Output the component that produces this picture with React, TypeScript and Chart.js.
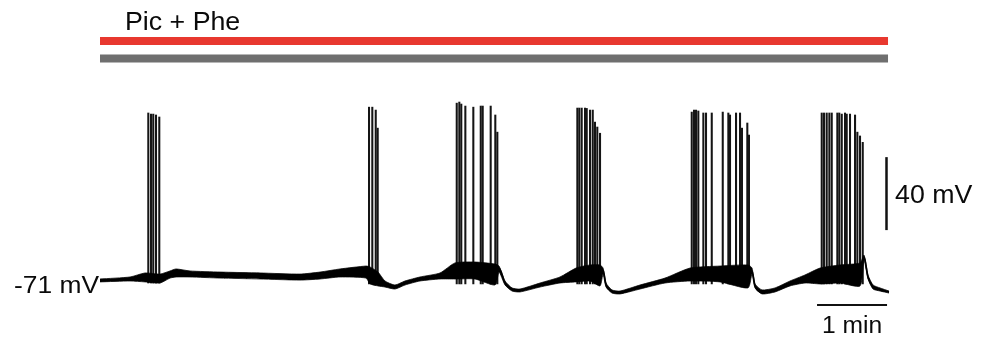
import React, { useEffect, useRef } from "react";
import { Chart, registerables } from "chart.js";

Chart.register(...registerables);

// ---- Data (time in minutes, membrane potential in mV) ----
const traceTimes = [
  0, 0.143, 0.429, 0.643, 0.857, 0.971, 1.086, 1.286, 1.714, 2.286, 2.857, 3.143, 3.429, 3.8,
  3.971, 4.114, 4.214, 4.357, 4.571, 4.857, 5.071, 5.357, 5.629, 5.7, 5.786, 5.886, 6.0, 6.286,
  6.571, 6.8, 7.0, 7.143, 7.186, 7.229, 7.314, 7.429, 7.714, 8.071, 8.429, 8.857, 9.257, 9.314,
  9.357, 9.457, 9.643, 9.857, 10.071, 10.286, 10.571, 10.857, 10.914, 10.971, 11.043, 11.143, 11.271,
];
const traceMv = [
  -71, -70.5, -69.9, -68.8, -69.9, -68.3, -66.6, -67.2, -67.7, -68.3, -68.8, -68.3, -66.6, -66.1,
  -69.9, -73.2, -74.3, -72.1, -69.9, -68.3, -65.5, -65.0, -66.1, -63.9, -72.1, -75.4, -75.9, -73.2,
  -70.5, -67.7, -66.6, -66.1, -65.0, -73.2, -76.5, -77.6, -74.3, -71.0, -67.7, -67.2, -67.2, -65.5,
  -73.7, -77.0, -75.9, -72.6, -69.9, -68.3, -67.2, -67.2, -57.8, -68.8, -74.3, -75.9, -77.0,
];

const noiseTimes = [
  0, 0.429, 0.643, 0.857, 1.0, 1.086, 1.286, 1.714, 2.286, 2.857, 3.143, 3.429, 3.8, 3.857,
  3.971, 4.071, 4.214, 4.357, 4.571, 4.857, 5.071, 5.357, 5.643, 5.7, 5.786, 5.886, 6.0, 6.286,
  6.571, 6.8, 7.0, 7.143, 7.186, 7.229, 7.314, 7.429, 7.714, 8.071, 8.429, 8.857, 9.257, 9.314,
  9.357, 9.457, 9.643, 9.857, 10.071, 10.286, 10.571, 10.857, 10.914, 10.971, 11.043, 11.143, 11.271,
];
const noiseUpper = [
  -69.9, -68.8, -66.6, -67.2, -65.5, -64.4, -65.5, -66.1, -66.6, -67.2, -66.1, -64.4, -62.8, -63.3,
  -66.1, -71.0, -73.2, -71.0, -68.8, -66.6, -61.1, -60.6, -61.7, -62.8, -71.0, -74.8, -75.4, -72.1,
  -68.8, -63.9, -62.2, -62.2, -63.9, -72.1, -75.9, -76.5, -73.2, -69.4, -63.9, -62.8, -62.2, -63.9,
  -72.6, -75.9, -74.8, -71.0, -67.7, -63.9, -62.2, -61.1, -56.8, -67.7, -73.2, -74.8, -76.5,
];
const noiseLower = [
  -71.5, -71.0, -71.5, -72.1, -69.4, -68.8, -68.8, -69.4, -69.9, -70.5, -69.9, -68.8, -69.4, -72.6,
  -73.7, -74.3, -75.4, -73.2, -71.0, -69.9, -69.9, -69.9, -73.2, -66.1, -73.2, -76.5, -77.0, -74.3,
  -72.1, -71.5, -71.0, -73.7, -67.2, -74.3, -77.6, -78.1, -75.4, -72.1, -71.0, -71.5, -74.8, -67.2,
  -74.8, -78.1, -77.0, -73.7, -72.1, -72.6, -72.1, -73.7, -59.5, -69.9, -75.4, -76.5, -77.6,
];

// Action potentials: spike times (min) and peak potentials (mV), per burst
const burst1Times = [0.69, 0.729, 0.761, 0.8, 0.847];
const burst1Peaks = [21.1, 20.5, 20.5, 20.0, 18.9];
const burst2Times = [3.843, 3.89, 3.939, 3.967];
const burst2Peaks = [24.3, 24.3, 22.7, 12.8];
const burst3Times = [5.096, 5.133, 5.161, 5.219, 5.333, 5.439, 5.467, 5.581, 5.647, 5.676];
const burst3Peaks = [26.5, 27.1, 26.0, 24.9, 24.3, 24.9, 24.9, 24.9, 20.0, 10.6];
const burst4Times = [6.819, 6.847, 6.881, 6.929, 6.953, 7.0, 7.039, 7.071, 7.104, 7.143];
const burst4Peaks = [23.8, 23.8, 23.8, 23.8, 23.6, 22.7, 22.7, 16.1, 13.4, 10.0];
const burst5Times = [8.453, 8.486, 8.514, 8.547, 8.619, 8.657, 8.739, 8.896, 8.976, 9.0, 9.086, 9.143, 9.171, 9.247, 9.271];
const burst5Peaks = [21.6, 22.7, 22.7, 22.2, 21.1, 21.1, 21.1, 21.6, 21.1, 20.0, 21.1, 21.1, 12.8, 15.6, 9.0];
const burst6Times = [10.31, 10.343, 10.381, 10.419, 10.453, 10.533, 10.561, 10.596, 10.643, 10.667, 10.714, 10.786, 10.819, 10.857, 10.896];
const burst6Peaks = [21.1, 21.1, 21.1, 21.1, 21.1, 21.1, 21.1, 20.5, 21.1, 20.5, 20.5, 20.0, 10.6, 8.5, 5.0];
const burstFloors = [-72.1, -72.6, -72.6, -72.6, -72.6, -72.6];

// Annotations
const drugLabel = "Pic + Phe";
const restingLabel = "-71 mV";
const voltageBarMv = 40;
const voltageBarBottomMv = -43.1;
const voltageBarLabel = "40 mV";
const timeBarMin = 1;
const timeBarStartMin = 10.243;
const timeBarLabel = "1 min";
const drugStartMin = 0;
const drugEndMin = 11.257;

const X_MAX = 11.271;
const Y_MIN = -86.9;
const Y_MAX = 33.7;

const FONT = '"Liberation Sans", Arial, Helvetica, sans-serif';

function stretchedText(
  ctx: CanvasRenderingContext2D,
  text: string,
  x: number,
  y: number,
  size: number,
  align: CanvasTextAlign,
  sx: number
) {
  ctx.save();
  ctx.translate(x, y);
  ctx.scale(sx, 1);
  ctx.font = `${size}px ${FONT}`;
  ctx.textAlign = align;
  ctx.textBaseline = "alphabetic";
  ctx.fillStyle = "#0a0a0a";
  ctx.fillText(text, 0, 0);
  ctx.restore();
}

const decorations = {
  id: "decorations",
  afterDatasetsDraw(chart: any) {
    const ctx: CanvasRenderingContext2D = chart.ctx;
    const xs = chart.scales.x;
    const ys = chart.scales.y;
    const x0 = xs.getPixelForValue(drugStartMin);
    const x1 = xs.getPixelForValue(drugEndMin);
    ctx.save();
    // drug application bars
    ctx.fillStyle = "#e8382f";
    ctx.fillRect(x0, 37, x1 - x0, 8);
    ctx.fillStyle = "#6f6f6f";
    ctx.fillRect(x0, 54.5, x1 - x0, 8);
    stretchedText(ctx, drugLabel, 125, 29.5, 25, "left", 1.07);

    // resting potential label
    stretchedText(ctx, restingLabel, 99, 292.5, 24, "right", 1.1);

    // voltage scale bar
    const vx = 886.5;
    const vTop = ys.getPixelForValue(voltageBarBottomMv + voltageBarMv);
    const vBot = ys.getPixelForValue(voltageBarBottomMv);
    ctx.strokeStyle = "#111";
    ctx.lineWidth = 2.5;
    ctx.beginPath();
    ctx.moveTo(vx, vTop);
    ctx.lineTo(vx, vBot);
    ctx.stroke();
    stretchedText(ctx, voltageBarLabel, 895, 203, 25, "left", 1.07);

    // time scale bar
    const tx0 = xs.getPixelForValue(timeBarStartMin);
    const tx1 = xs.getPixelForValue(timeBarStartMin + timeBarMin);
    ctx.lineWidth = 2;
    ctx.beginPath();
    ctx.moveTo(tx0, 305);
    ctx.lineTo(tx1, 305);
    ctx.stroke();
    stretchedText(ctx, timeBarLabel, (tx0 + tx1) / 2, 333, 23, "center", 1.07);
    ctx.restore();
  },
};

export default function App() {
  const ref = useRef<HTMLCanvasElement>(null);

  useEffect(() => {
    const trace = traceTimes.map((x, i) => ({ x, y: traceMv[i] }));
    const upper = noiseTimes.map((x, i) => ({ x, y: noiseUpper[i] }));
    const lower = noiseTimes.map((x, i) => ({ x, y: noiseLower[i] }));
    const bursts = [
      [burst1Times, burst1Peaks],
      [burst2Times, burst2Peaks],
      [burst3Times, burst3Peaks],
      [burst4Times, burst4Peaks],
      [burst5Times, burst5Peaks],
      [burst6Times, burst6Peaks],
    ];
    const spikes: { x: number; y: [number, number] }[] = [];
    bursts.forEach(([times, peaks], b) => {
      times.forEach((t, j) => spikes.push({ x: t, y: [burstFloors[b], peaks[j]] }));
    });

    const chart = new Chart(ref.current as HTMLCanvasElement, {
      type: "line",
      data: {
        datasets: [
          {
            type: "line",
            data: upper,
            borderColor: "rgba(0,0,0,0.75)",
            borderWidth: 1,
            backgroundColor: "#000",
            fill: "+1",
            pointRadius: 0,
            tension: 0.2,
            clip: false,
          } as any,
          {
            type: "line",
            data: lower,
            borderColor: "rgba(0,0,0,0.75)",
            borderWidth: 1,
            fill: false,
            pointRadius: 0,
            tension: 0.2,
            clip: false,
          } as any,
          {
            type: "line",
            data: trace,
            borderColor: "#000",
            borderWidth: 1.6,
            fill: false,
            pointRadius: 0,
            cubicInterpolationMode: "monotone",
            clip: false,
          } as any,
          {
            type: "bar",
            data: spikes,
            backgroundColor: "#151515",
            borderWidth: 0,
            barThickness: 1.4,
            grouped: false,
            clip: false,
          } as any,
        ],
      },
      options: {
        responsive: false,
        animation: false,
        layout: { padding: { left: 100, right: 93, top: 90, bottom: 31 } },
        plugins: {
          legend: { display: false },
          tooltip: { enabled: false },
        },
        elements: { point: { radius: 0 } },
        scales: {
          x: { type: "linear", min: 0, max: X_MAX, display: false, offset: false },
          y: { type: "linear", min: Y_MIN, max: Y_MAX, display: false },
        },
      } as any,
      plugins: [decorations],
    });
    return () => chart.destroy();
  }, []);

  return (
    <div style={{ position: "absolute", left: 0, top: 0, width: 982, height: 341, background: "#fff" }}>
      <canvas ref={ref} width={982} height={341} style={{ display: "block" }} />
    </div>
  );
}
